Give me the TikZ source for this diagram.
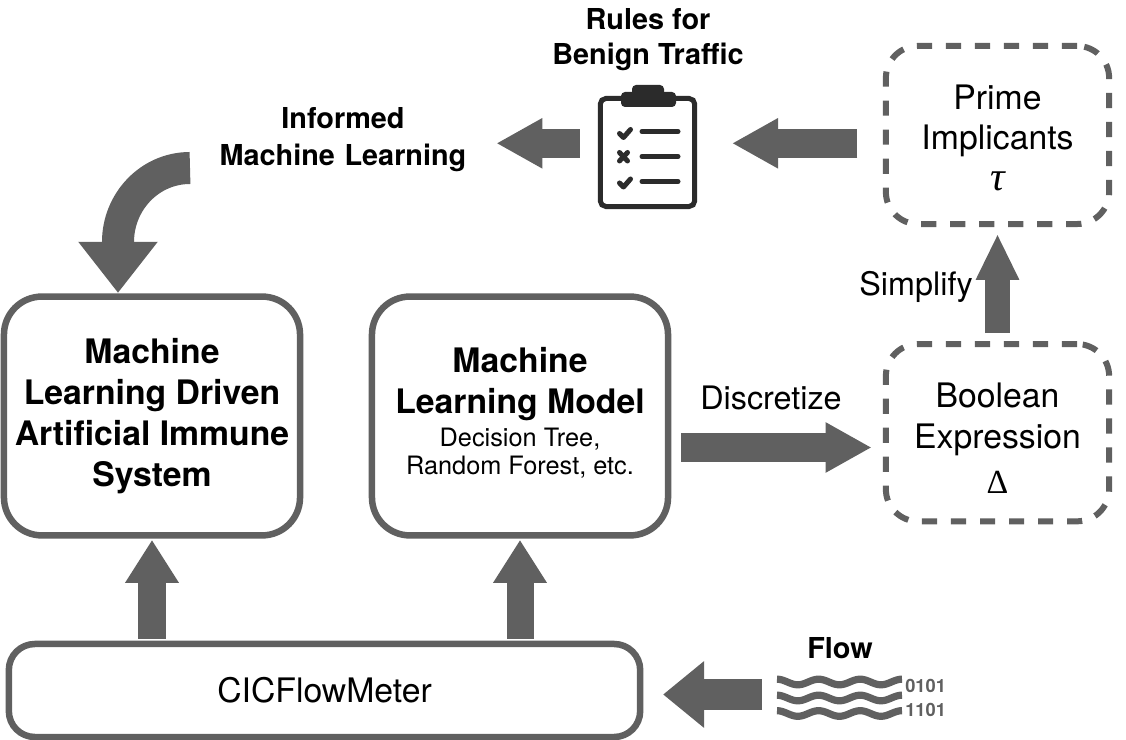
\documentclass[tikz,border=0pt]{standalone}
\usepackage{fontspec}
\setmainfont{TeX Gyre Heros}
\newfontfamily\greekfont{Liberation Serif}
\usetikzlibrary{arrows.meta}
\definecolor{boxgray}{HTML}{606060}
\definecolor{iconblack}{HTML}{2B2B2B}
\newcommand{\bigfont}{\fontsize{24}{29.2}\selectfont}
\newcommand{\midfont}{\fontsize{20.5}{26}\selectfont}
\newcommand{\smallfont}{\fontsize{18}{19.2}\selectfont}
\tikzset{
    % Boxes
    solidbox/.style={draw=boxgray, line width=0.1625cm, rounded corners=0.95cm, align=center, inner sep=0pt},
    dashbox/.style={draw=boxgray, line width=0.15cm, rounded corners=0.8cm, align=center, inner sep=0pt,
        dash pattern=on 0.38cm off 0.345cm, minimum width=5.58cm, font=\bigfont},
    % Texts
    biglabel/.style={font=\fontsize{23}{28}\selectfont, inner sep=0pt},
    boldlabel/.style={font=\midfont\bfseries, align=center, inner sep=0pt},
    bitlabel/.style={font=\fontsize{13}{13}\selectfont\bfseries, text=boxgray, inner sep=0pt},
    % Block arrows
    flatarrow/.style={draw=boxgray, line width=0.725cm, -{Triangle[length=1.15cm, width=1.175cm]}, boxgray},
    flowarrow/.style={draw=boxgray, line width=0.775cm, -{Triangle[length=1.025cm, width=1.6cm]}, boxgray},
    uparrow/.style={draw=boxgray, line width=0.675cm, -{Triangle[length=1.075cm, width=1.27cm]}, boxgray},
    thinarrow/.style={draw=boxgray, line width=0.625cm, -{Triangle[length=1.15cm, width=1cm]}, boxgray},
    curvearrow/.style={draw=boxgray, line width=0.8cm, -{Triangle[length=1.28cm, width=1.9cm]}, boxgray},
    % Clipboard icon
    iconline/.style={draw=iconblack, line width=0.125cm, line cap=round, line join=round},
    waveline/.style={draw=boxgray, line width=0.18cm}
}
\begin{document}
\begin{tikzpicture}[x=0.025cm, y=-0.025cm]
    \useasboundingbox (0,0) rectangle (1126,740);

    % Main boxes
    \node[solidbox, minimum width=7.4cm, minimum height=5.97cm, font=\bigfont\bfseries] (ais) at (152,416) {Machine\\Learning Driven\\Artificial Immune\\System};
    \node[solidbox, minimum width=7.4cm, minimum height=5.97cm, font=\bigfont] (model) at (520,416) {{\bfseries Machine}\\{\bfseries Learning Model}\\[-5.7pt]{\smallfont Decision Tree,}\\[-9.3pt]{\smallfont Random Forest, etc.\rule[-6.6pt]{0pt}{1pt}}};
    \node[solidbox, minimum width=15.78cm, minimum height=2.325cm, rounded corners=0.65cm, font=\bigfont] (cic) at (324.5,690.5) {CICFlowMeter};

    % Dashed boxes
    \node[dashbox, minimum height=4.45cm] (prime) at (997.5,135) {\rule{0pt}{22pt}Prime\\[-1pt]Implicants\\{\greekfont\itshape\fontsize{29}{29}\selectfont τ}};
    \node[dashbox, minimum height=4.43cm] (bool) at (997.5,432.7) {\rule{0pt}{24.9pt}Boolean\\Expression\\[3pt]{\greekfont Δ}};

    % Clipboard
    \node[draw=iconblack, fill=white, line width=0.125cm, rounded corners=0.14cm, minimum width=2.36cm, minimum height=2.7cm, inner sep=0pt] (rules) at (647.5,152.5) {};
    \fill[iconblack, rounded corners=0.1cm] (621,92) rectangle (676,107);
    \fill[iconblack, rounded corners=0.1cm] (632,85) rectangle (664,100);
    \foreach \y in {131.5,156.5,181.5}
        \draw[iconline] (642,\y) -- (678,\y);
    \foreach \y in {0,49.5}
        \draw[iconline] (619.5,133.5+\y) -- (623.5,137.5+\y) -- (630.5,129.5+\y);
    \draw[iconline] (619.5,152.5) -- (627.5,161) (627.5,152.5) -- (619.5,161);

    % Labels
    \node[boldlabel] (benign) at (648,39.5) {Rules for\\[-1.5pt]Benign Traffic};
    \node[boldlabel, text width=7cm] (informed) at (343,139.5) {Informed\\Machine Learning};
    \node[biglabel] (disc) at (771,398) {Discretize};
    \node[biglabel] (simplify) at (916,287) {Simplify};
    \node[boldlabel] (flow) at (840,648) {Flow};
    \node[bitlabel, anchor=west] (bita) at (905,686) {0101};
    \node[bitlabel, anchor=west] (bitb) at (905,710) {1101};

    % Flow waves
    \foreach \y in {682,698,713.5}
        \draw[waveline] plot[domain=0:125, samples=70, smooth] ({777+\x}, {\y-2.8*cos(\x/41.6*360)});

    % Free ends of the arrows
    \coordinate (topline) at (700,143.3);
    \coordinate (discline) at (770,447.5);
    \coordinate (waves) at (777,694.5);
    \coordinate (curvestart) at (190,168);
    \coordinate (curvebend) at (118,242);
    \coordinate (curvetip) at (118,293);

    % Arrows
    \draw[flowarrow, shorten <=0.375cm, shorten >=0.49cm] (waves) -- (waves -| cic.east);
    \draw[uparrow, shorten <=0.045cm, shorten >=0.03cm] (ais.south |- cic.north) -- (ais.south);
    \draw[uparrow, shorten <=0.045cm, shorten >=0.03cm] (model.south |- cic.north) -- (model.south);
    \draw[flatarrow, shorten <=0.245cm, shorten >=0.28cm] (discline -| model.east) -- (discline -| bool.west);
    \draw[thinarrow, shorten <=0.2cm, shorten >=0.17cm] (bool.north) -- (prime.south);
    \draw[flatarrow, shorten <=0.64cm, shorten >=0.87cm] (topline -| prime.west) -- (topline -| rules.east);
    \draw[flatarrow, shorten <=0.445cm, shorten >=0.325cm] (topline -| rules.west) -- (topline -| informed.east);
    \draw[curvearrow] (curvestart) to[out=180, in=90] (curvebend) -- (curvetip);
\end{tikzpicture}
\end{document}
